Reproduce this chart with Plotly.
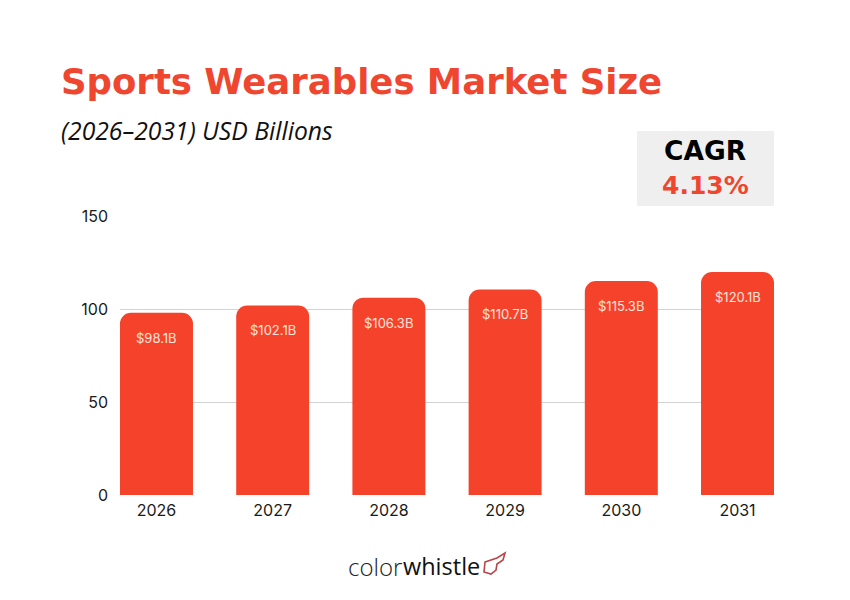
import plotly.graph_objects as go

W, H = 850, 600

years = ["2026", "2027", "2028", "2029", "2030", "2031"]
market_size = [98.1, 102.1, 106.3, 110.7, 115.3, 120.1]
value_labels = ["$98.1B", "$102.1B", "$106.3B", "$110.7B", "$115.3B", "$120.1B"]
y_ticks = [0, 50, 100, 150]

RED = "#F5432B"
TITLE_RED = "#EF4630"
TICK_FONT = "Inter"
HEAVY_FONT = "DejaVu Sans"


def px(x):
    return x / W


def py(y):
    return 1 - y / H


fig = go.Figure(
    go.Bar(
        x=years,
        y=market_size,
        width=0.628,
        marker=dict(color=RED, line_width=0),
        hoverinfo="skip",
    )
)

# Value labels sit a fixed distance below the top of each bar;
# x is the category index because the year names look numeric
annotations = [
    dict(
        x=i, y=val, xref="x", yref="y", text=lab, showarrow=False,
        yanchor="middle", yshift=-25,
        font=dict(family=TICK_FONT, size=13, color="#FFE3DC"),
    )
    for i, (val, lab) in enumerate(zip(market_size, value_labels))
]

texts = [
    dict(x=px(59), y=py(81), text="<b>Sports Wearables Market Size</b>", xanchor="left",
         font=dict(family=HEAVY_FONT, size=35.5, color=TITLE_RED)),
    dict(x=px(59), y=py(131), text="<i>(2026–2031) USD Billions</i>", xanchor="left",
         font=dict(family="Open Sans", size=24.7, color="#111111")),
    dict(x=px(705), y=py(150), text="<b>CAGR</b>", xanchor="center",
         font=dict(family=HEAVY_FONT, size=26.5, color="#000000")),
    dict(x=px(705), y=py(185), text="<b>4.13%</b>", xanchor="center",
         font=dict(family=HEAVY_FONT, size=25, color=TITLE_RED)),
    dict(x=px(404), y=py(566), text="color", xanchor="right",
         font=dict(family="Open Sans", size=24, color="#222222", weight=300)),
    dict(x=px(401), y=py(566), text="whistle", xanchor="left",
         font=dict(family="Open Sans", size=23.5, color="#111111", weight=400)),
]
for t in texts:
    t.update(xref="paper", yref="paper", showarrow=False, yanchor="middle")

shapes = [
    # CAGR callout panel
    dict(type="rect", xref="paper", yref="paper", layer="below",
         x0=px(637), x1=px(774), y0=py(206), y1=py(131),
         fillcolor="#EFEFEF", line_width=0),
    # Whistle outline in the logo
    dict(type="path", xref="paper", yref="paper", layer="above",
         path=(
             f"M {px(485)} {py(562)} L {px(497)} {py(558)} L {px(505)} {py(553)} "
             f"L {px(503)} {py(560)} L {px(497)} {py(564)} L {px(496)} {py(570)} "
             f"L {px(491)} {py(574)} L {px(484)} {py(572)} Z"
         ),
         fillcolor="rgba(0,0,0,0)", line=dict(color="#B8454A", width=1.6)),
]

fig.update_layout(
    width=W,
    height=H,
    margin=dict(l=0, r=0, t=0, b=0),
    autosize=False,
    paper_bgcolor="white",
    plot_bgcolor="white",
    showlegend=False,
    barcornerradius=11,
    annotations=annotations + texts,
    shapes=shapes,
    xaxis=dict(
        domain=[px(120), px(774)],
        type="category",
        range=[-0.314, 5.314],
        automargin=False,
        showgrid=False,
        showline=False,
        ticks="",
        ticklabelstandoff=4,
        tickfont=dict(family=TICK_FONT, size=16, color="#1A1A1A"),
    ),
    yaxis=dict(
        domain=[py(495), py(216.5)],
        range=[0, 150],
        tickvals=y_ticks,
        automargin=False,
        showgrid=True,
        gridcolor="#D3D3D3",
        gridwidth=1,
        zeroline=False,
        showline=False,
        ticks="",
        ticklabelstandoff=11,
        tickfont=dict(family=TICK_FONT, size=16, color="#1A1A1A"),
    ),
)

fig.write_html("out.html")
